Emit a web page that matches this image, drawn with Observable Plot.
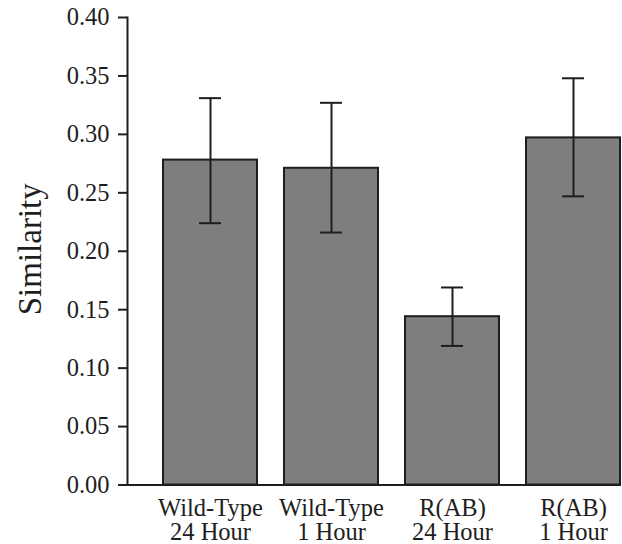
<!DOCTYPE html>
<html>
<head>
<meta charset="utf-8">
<script src="https://cdn.jsdelivr.net/npm/d3@7"></script>
<script src="https://cdn.jsdelivr.net/npm/@observablehq/plot@0.6"></script>
<style>
  html, body { margin: 0; padding: 0; background: #fff; }
  #chart { width: 622px; height: 544px; }
</style>
</head>
<body>
<div id="chart"></div>
<script>
const categories = ["wt24", "wt1", "rab24", "rab1"];
const categoryLabels = ["Wild-Type\n24 Hour", "Wild-Type\n1 Hour", "R(AB)\n24 Hour", "R(AB)\n1 Hour"];
const similarity = [0.278, 0.271, 0.144, 0.297];
const errLow = [0.224, 0.216, 0.119, 0.247];
const errHigh = [0.331, 0.327, 0.169, 0.348];
const yTicks = [0, 0.05, 0.10, 0.15, 0.20, 0.25, 0.30, 0.35, 0.40];

const data = categories.map((c, i) => ({
  cat: c, label: categoryLabels[i], value: similarity[i], lo: errLow[i], hi: errHigh[i]
}));
const labelOf = Object.fromEntries(categories.map((c, i) => [c, categoryLabels[i]]));

const ink = "#1e1e1e";
const chart = Plot.plot({
  width: 622,
  height: 544,
  marginLeft: 127,
  marginRight: 1,
  marginTop: 17,
  marginBottom: 59.5,
  style: { fontFamily: "'Liberation Serif', 'Times New Roman', serif", color: ink, background: "#fff" },
  x: { domain: categories, paddingInner: 0.22, paddingOuter: 0.135, align: 0.97, label: null },
  y: { domain: [0, 0.4], label: null },
  marks: [
    Plot.barY(data, { x: "cat", y: "value", fill: "#7e7e7e", stroke: ink, strokeWidth: 2 }),
    Plot.ruleX(data, { x: "cat", y1: "lo", y2: "hi", stroke: ink, strokeWidth: 2 }),
    Plot.tickY(data, { x: "cat", y: "hi", stroke: ink, strokeWidth: 2, insetLeft: 36, insetRight: 36 }),
    Plot.tickY(data, { x: "cat", y: "lo", stroke: ink, strokeWidth: 2, insetLeft: 36, insetRight: 36 }),
    Plot.frame({ anchor: "left", stroke: ink, strokeWidth: 2 }),
    Plot.ruleY([0], { stroke: ink, strokeWidth: 2 }),
    Plot.axisY({ ticks: yTicks, tickFormat: d3.format(".2f"), tickSize: 9, tickPadding: 9, fontSize: 24.5, strokeWidth: 2, label: null }),
    Plot.axisX({ tickSize: 0, tickPadding: 14, fontSize: 24.5, lineHeight: 0.97, tickFormat: d => labelOf[d], label: null }),
    Plot.text(["Similarity"], { text: d => d, frameAnchor: "left", textAnchor: "middle", dx: -97, dy: -2, rotate: -90, fontSize: 33, fill: ink })
  ]
});
document.getElementById("chart").append(chart);
</script>
</body>
</html>
